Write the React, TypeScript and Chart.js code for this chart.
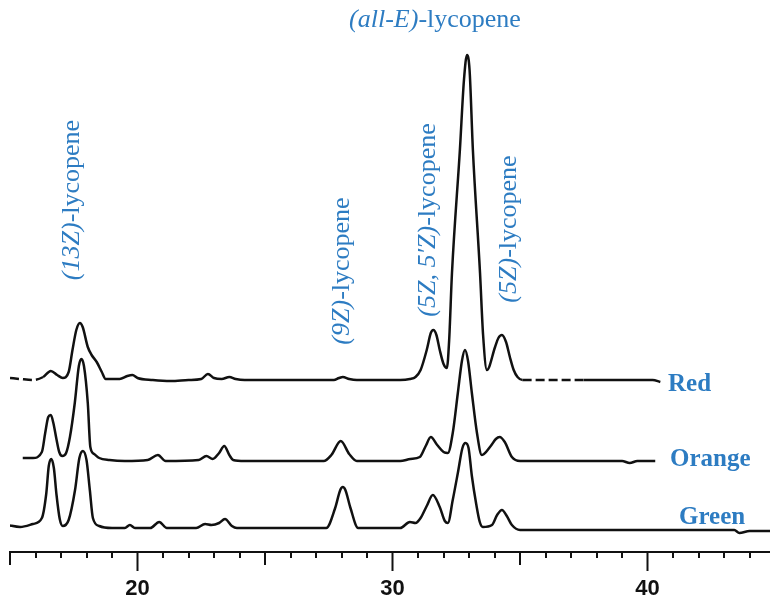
import { useEffect, useRef } from 'react';
import { Chart, registerables } from 'chart.js';

Chart.register(...registerables);

// Retention time (min) and detector response (arbitrary units, above each trace's own baseline)
const TIME_RED = [15.0, 15.4, 15.9, 16.3, 16.6, 16.85, 17.07, 17.3, 17.45, 17.6, 17.74, 17.85, 18.05, 18.2, 18.4, 18.6, 18.75, 19.3, 19.6, 19.8, 20.0, 20.6, 21.3, 22.0, 22.5, 22.76, 23.0, 23.3, 23.6, 23.85, 24.2, 27.7, 27.9, 28.05, 28.3, 28.6, 30.3, 30.68, 30.9, 31.1, 31.34, 31.5, 31.6, 31.72, 31.85, 32.0, 32.13, 32.22, 32.33, 32.64, 32.8, 32.92, 33.02, 33.15, 33.43, 33.55, 33.7, 34.02, 34.15, 34.29, 34.45, 34.6, 34.75, 34.9, 35.1, 37.5, 40.2, 40.5];
const RED = [2, 1, 0, 3, 9, 5, 2, 8, 30, 50, 57, 53, 33, 25, 18, 8, 1, 1, 4, 5, 2, 0, -1, 0, 1, 6, 2, 1, 3, 1, 0, 0, 2, 3, 1, 0, 0, 1, 3, 10, 30, 47, 50, 45, 30, 16, 12, 40, 107, 230, 300, 325, 310, 230, 107, 45, 10, 33, 42, 45, 38, 23, 10, 3, 0, 0, 0, -2];

const TIME_ORANGE = [15.5, 15.9, 16.25, 16.38, 16.5, 16.6, 16.7, 16.82, 16.93, 17.05, 17.2, 17.35, 17.54, 17.7, 17.8, 17.9, 18.05, 18.15, 18.3, 18.5, 18.9, 19.5, 20.4, 20.8, 21.1, 22.4, 22.7, 22.95, 23.2, 23.4, 23.6, 23.75, 24.2, 27.3, 27.6, 27.97, 28.3, 28.6, 30.3, 30.7, 31.07, 31.3, 31.5, 31.75, 32.0, 32.17, 32.36, 32.56, 32.72, 32.84, 32.96, 33.11, 33.31, 33.5, 33.85, 34.05, 34.2, 34.4, 34.68, 35.0, 39.0, 39.3, 39.6, 40.3];
const ORANGE = [3, 3, 9, 28, 44, 46, 38, 22, 9, 5, 8, 24, 58, 95, 102, 95, 58, 14, 7, 3, 1, 0, 1, 6, 0, 1, 5, 2, 8, 15, 6, 1, 0, 0, 6, 20, 7, 0, 0, 2, 4, 15, 24, 16, 9, 8, 28, 68, 100, 111, 100, 68, 28, 6, 15, 22, 24, 19, 4, 0, 0, -2, 0, 0];

const TIME_GREEN = [14.9, 15.4, 15.9, 16.25, 16.42, 16.52, 16.62, 16.72, 16.82, 16.95, 17.07, 17.3, 17.55, 17.72, 17.86, 18.0, 18.13, 18.25, 18.5, 19.0, 19.5, 19.7, 19.9, 20.5, 20.85, 21.15, 22.3, 22.65, 22.9, 23.2, 23.43, 23.7, 23.9, 27.4, 27.75, 27.95, 28.05, 28.15, 28.35, 28.65, 30.3, 30.68, 30.9, 31.1, 31.34, 31.58, 31.85, 32.05, 32.17, 32.36, 32.56, 32.74, 32.86, 32.98, 33.11, 33.28, 33.42, 33.54, 33.9, 34.1, 34.29, 34.48, 34.68, 35.0, 36.0, 43.4, 43.6, 44.0, 44.8];
const GREEN = [3, 1, 4, 10, 34, 62, 69, 60, 34, 9, 2, 8, 38, 70, 77, 68, 38, 10, 2, 0, 0, 3, 0, 0, 6, 0, 0, 4, 3, 5, 9, 2, 0, 0, 20, 38, 41, 38, 20, 0, 0, 6, 5, 10, 22, 33, 21, 7, 5, 28, 55, 80, 85, 80, 52, 24, 6, 1, 3, 13, 18, 12, 3, -2, -2, -2, -5, -3, -3];

const SERIES_NAMES = ['Red', 'Orange', 'Green'];
const BASELINE_OFFSETS = [172, 91, 24];
const X_TICKS = [20, 30, 40];

const X_MIN = 15;
const X_MAX = 44.8;
const Y_MAX = 552;

const BLUE = '#2d7cc2';
const SERIF = '"Liberation Serif", "Times New Roman", serif';

type Part = [string, boolean];
const PEAK_LABELS: { parts: Part[]; x: number; y: number; vertical: boolean }[] = [
  { parts: [['(all-E)', true], ['-lycopene', false]], x: 435, y: 20, vertical: false },
  { parts: [['(13Z)', true], ['-lycopene', false]], x: 72, y: 200, vertical: true },
  { parts: [['(9Z)', true], ['-lycopene', false]], x: 342, y: 271, vertical: true },
  { parts: [['(5Z, 5\u2032Z)', true], ['-lycopene', false]], x: 428, y: 220, vertical: true },
  { parts: [['(5Z)', true], ['-lycopene', false]], x: 509, y: 229, vertical: true },
];
const SERIES_LABEL_POS = [
  { x: 668, y: 385 },
  { x: 670, y: 460 },
  { x: 679, y: 518 },
];

const annotationPlugin = {
  id: 'annotations',
  afterDraw(chart: any) {
    const ctx = chart.ctx as CanvasRenderingContext2D;
    const xs = chart.scales.x;
    ctx.save();
    ctx.strokeStyle = '#111';
    ctx.lineWidth = 2;
    for (let v = Math.ceil(X_MIN); v <= Math.floor(X_MAX); v++) {
      if (v % 10 === 0) continue;
      const len = v % 5 === 0 ? 13 : 6;
      const px = Math.round(xs.getPixelForValue(v));
      ctx.beginPath();
      ctx.moveTo(px, xs.top);
      ctx.lineTo(px, xs.top + len);
      ctx.stroke();
    }
    ctx.restore();

    const size = 26;
    for (const lab of PEAK_LABELS) {
      ctx.save();
      ctx.fillStyle = BLUE;
      ctx.textBaseline = 'middle';
      ctx.textAlign = 'left';
      ctx.translate(lab.x, lab.y);
      if (lab.vertical) ctx.rotate(-Math.PI / 2);
      let total = 0;
      const widths = lab.parts.map(([t, it]) => {
        ctx.font = `${it ? 'italic ' : ''}${size}px ${SERIF}`;
        const w = ctx.measureText(t).width;
        total += w;
        return w;
      });
      let cx = -total / 2;
      lab.parts.forEach(([t, it], i) => {
        ctx.font = `${it ? 'italic ' : ''}${size}px ${SERIF}`;
        ctx.fillText(t, cx, 0);
        cx += widths[i];
      });
      ctx.restore();
    }

    ctx.save();
    ctx.fillStyle = BLUE;
    ctx.textBaseline = 'middle';
    ctx.textAlign = 'left';
    ctx.font = `bold 25px ${SERIF}`;
    SERIES_NAMES.forEach((name, i) => {
      ctx.fillText(name, SERIES_LABEL_POS[i].x, SERIES_LABEL_POS[i].y);
    });
    ctx.restore();
  },
};

export default function App() {
  const ref = useRef<HTMLCanvasElement | null>(null);
  useEffect(() => {
    if (!ref.current) return;
    const traces = [
      [TIME_RED, RED],
      [TIME_ORANGE, ORANGE],
      [TIME_GREEN, GREEN],
    ];
    const datasets = traces.map(([ts, vs], i) => ({
      label: SERIES_NAMES[i],
      data: ts.map((t, k) => ({ x: t, y: vs[k] + BASELINE_OFFSETS[i] })),
      borderColor: '#111',
      borderWidth: 2.5,
      pointRadius: 0,
      fill: false,
      cubicInterpolationMode: 'monotone' as const,
      segment:
        i === 0
          ? {
              borderDash: (c: any) => {
                const x0 = c.p0.parsed.x;
                return x0 < 16 || (x0 > 35 && x0 < 37) ? [9, 4] : undefined;
              },
            }
          : undefined,
    }));
    const chart = new Chart(ref.current, {
      type: 'line',
      data: { datasets },
      options: {
        animation: false,
        responsive: false,
        layout: { padding: { left: 10, right: 0, top: 0, bottom: 0 } },
        plugins: { legend: { display: false }, tooltip: { enabled: false } },
        scales: {
          x: {
            type: 'linear',
            min: X_MIN,
            max: X_MAX,
            afterBuildTicks: (scale: any) => {
              scale.ticks = X_TICKS.map((v) => ({ value: v }));
            },
            afterFit: (scale: any) => {
              scale.height = 47;
            },
            grid: {
              drawOnChartArea: false,
              drawTicks: true,
              tickLength: 19,
              tickWidth: 2,
              tickColor: '#111',
            },
            border: { display: true, color: '#111', width: 2 },
            ticks: {
              color: '#111',
              padding: 5,
              maxRotation: 0,
              font: { family: '"Liberation Sans", Arial, sans-serif', size: 22, weight: 'bold' },
            },
          },
          y: { type: 'linear', display: false, min: 0, max: Y_MAX },
        },
      },
      plugins: [annotationPlugin],
    });
    return () => chart.destroy();
  }, []);
  return (
    <div style={{ position: 'absolute', left: 0, top: 0, width: 770, height: 599, background: '#fff' }}>
      <canvas ref={ref} width={770} height={599} />
    </div>
  );
}
